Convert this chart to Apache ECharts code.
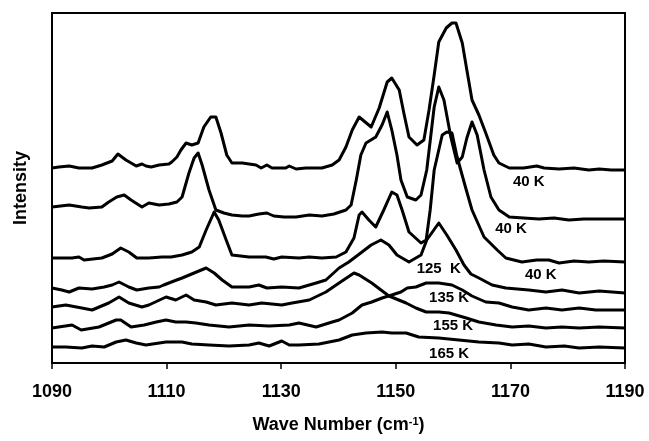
<!DOCTYPE html>
<html>
<head>
<meta charset="utf-8">
<script src="https://cdn.jsdelivr.net/npm/echarts@6/dist/echarts.min.js"></script>
<style>
  html, body { margin: 0; padding: 0; background: #fff; }
  #chart { width: 649px; height: 441px; }
</style>
</head>
<body>
<div id="chart"></div>
<script>
// wave numbers (cm-1) and stacked intensities (arbitrary units)
const wn40a = [1090.0,1091.2,1093.0,1094.7,1097.0,1098.7,1100.5,1101.5,1102.9,1104.7,1105.7,1106.4,1107.3,1108.7,1110.4,1110.9,1111.8,1112.5,1113.4,1114.4,1115.5,1116.5,1117.7,1118.6,1119.5,1120.5,1121.4,1123.2,1124.4,1125.6,1126.5,1127.5,1128.4,1130.8,1131.4,1132.6,1134.3,1137.1,1138.9,1140.1,1141.3,1142.4,1143.6,1145.7,1147.1,1148.5,1149.3,1150.6,1151.4,1152.3,1153.7,1154.9,1155.8,1156.7,1157.5,1158.8,1159.8,1160.5,1161.6,1162.4,1163.3,1164.5,1165.7,1167.1,1168.0,1169.8,1172.3,1174.6,1175.9,1178.5,1181.1,1183.7,1185.5,1187.6,1190.0];
const int40a = [195,196,197,195,195,198,202,209,203,197,199,197,196,198,199,201,206,213,220,218,220,236,246,246,230,208,200,200,199,198,195,198,195,195,197,194,195,195,198,203,216,233,246,236,255,281,285,273,250,226,218,223,253,288,321,335,340,340,320,293,263,248,230,208,200,195,195,197,195,194,195,193,194,193,193];

const wn40b = [1090.0,1093.0,1095.2,1096.5,1098.7,1099.9,1101.3,1102.6,1103.8,1105.7,1106.9,1108.7,1110.4,1111.8,1112.7,1113.9,1114.8,1115.5,1116.2,1117.4,1118.6,1120.0,1121.4,1123.2,1124.4,1126.1,1127.5,1128.7,1130.5,1132.6,1134.9,1137.1,1139.2,1141.3,1142.2,1143.1,1143.9,1144.8,1146.5,1147.6,1148.5,1149.3,1150.2,1150.9,1152.0,1153.5,1154.4,1155.4,1156.7,1157.5,1158.4,1159.6,1160.7,1161.6,1162.4,1163.3,1164.2,1165.4,1166.6,1168.0,1169.8,1172.3,1175.0,1177.6,1180.2,1182.8,1185.5,1190.0];
const int40b = [156,158,156,155,156,161,166,168,163,156,160,158,159,161,166,190,205,210,198,173,153,150,148,147,147,149,150,147,146,146,148,147,149,153,158,183,208,220,226,238,251,233,208,183,166,163,168,193,256,276,263,226,200,206,225,241,228,193,166,153,146,145,144,145,143,144,144,144];

const wn40c = [1090.0,1093.5,1094.7,1095.6,1098.7,1100.5,1102.0,1103.4,1104.8,1106.9,1109.2,1110.8,1112.7,1114.4,1115.7,1116.9,1118.3,1119.1,1120.4,1121.4,1124.4,1127.3,1128.7,1130.1,1133.1,1134.9,1137.1,1139.6,1141.3,1142.7,1143.6,1144.1,1145.3,1146.5,1147.9,1149.3,1150.2,1151.1,1152.3,1154.4,1155.3,1156.0,1156.7,1158.1,1158.9,1159.8,1160.7,1162.3,1163.3,1165.4,1167.7,1169.2,1172.0,1174.6,1176.7,1178.5,1181.1,1183.7,1186.3,1190.0];
const int40c = [105,105,106,103,105,109,115,111,105,105,106,106,108,111,116,133,151,143,123,108,106,106,104,106,105,106,105,106,111,125,148,151,143,136,153,171,168,153,131,120,123,153,193,228,231,230,206,173,153,126,113,105,101,103,103,100,102,101,102,101];

const wn125 = [1090.0,1091.7,1093.0,1094.7,1097.0,1099.1,1100.5,1101.7,1103.4,1104.8,1106.9,1108.7,1109.5,1111.3,1112.7,1114.8,1116.9,1118.3,1119.7,1121.4,1124.4,1126.1,1127.5,1130.1,1133.1,1136.1,1137.8,1140.1,1141.8,1144.1,1145.7,1147.4,1148.8,1150.2,1152.3,1154.4,1155.4,1157.5,1158.9,1160.5,1161.9,1163.1,1164.5,1166.8,1169.2,1173.2,1176.2,1179.0,1182.0,1185.5,1190.0];
const int125 = [75,73,71,75,74,76,78,81,76,73,75,76,78,82,85,90,95,90,83,76,76,78,75,76,75,80,83,95,101,111,118,123,118,108,101,108,123,140,128,113,98,89,85,78,75,73,71,73,70,72,70];

const wnMid = [1090.0,1092.4,1095.2,1097.0,1099.9,1101.7,1103.4,1105.7,1106.9,1109.9,1111.6,1113.4,1114.8,1116.9,1118.6,1121.4,1124.4,1126.6,1130.1,1131.9,1134.9,1137.8,1140.1,1142.7,1143.6,1145.8,1148.8,1151.8,1153.5,1155.3,1157.5,1159.3,1162.3,1164.5,1167.5,1170.3,1173.2,1176.2,1179.0,1182.0,1185.5,1190.0];
const intMid = [56,58,55,53,60,66,60,56,58,66,63,68,63,61,58,60,58,60,58,60,63,71,80,90,88,80,67,60,55,51,51,50,45,41,38,36,37,35,36,35,36,35];

const wnLow = [1090.0,1093.5,1095.1,1098.2,1101.2,1102.0,1103.8,1106.1,1108.2,1109.9,1111.6,1113.4,1115.1,1117.4,1120.9,1124.4,1127.9,1131.4,1133.1,1136.1,1138.9,1140.1,1142.4,1144.1,1145.8,1147.6,1149.3,1150.9,1152.0,1153.5,1155.3,1157.5,1159.8,1161.6,1163.3,1165.7,1168.0,1170.3,1173.2,1176.2,1179.0,1182.0,1184.9,1190.0];
const intLow = [35,38,33,36,43,43,36,38,41,43,41,41,40,38,36,38,37,38,40,36,41,43,50,58,61,65,68,71,75,76,80,80,78,73,67,61,60,56,53,55,53,55,53,53];

const wn165 = [1090.0,1092.4,1095.2,1097.0,1099.1,1101.2,1102.9,1104.7,1106.4,1109.9,1112.7,1114.4,1117.4,1120.9,1124.4,1126.1,1127.9,1130.1,1131.4,1133.1,1136.6,1140.1,1142.4,1144.8,1147.6,1149.3,1151.8,1154.0,1157.5,1161.0,1164.5,1168.0,1170.3,1173.2,1176.2,1179.4,1182.0,1185.5,1190.0];
const int165 = [16,16,15,17,16,21,23,20,18,21,21,19,18,17,18,20,17,22,18,18,19,23,28,30,31,30,30,26,25,23,21,20,18,19,16,17,15,16,15];

// curve labels (text, wave number, intensity)
const labelText = ["40 K", "40 K", "40 K", "125  K", "135 K", "155 K", "165 K"];
const labelWn = [1173.2, 1170.1, 1175.3, 1157.5, 1159.3, 1160.0, 1159.3];
const labelInt = [181, 134, 88, 94, 65, 37, 9];

const xTicks = [1090, 1110, 1130, 1150, 1170, 1190];

const FONT = "Liberation Sans, Arial, sans-serif";
const pairs = (xs, ys) => xs.map((x, i) => [x, ys[i]]);

const curves = [
    { name: "40 K a", data: pairs(wn40a, int40a) },
    { name: "40 K b", data: pairs(wn40b, int40b) },
    { name: "40 K c", data: pairs(wn40c, int40c) },
    { name: "125 K", data: pairs(wn125, int125) },
    { name: "mid", data: pairs(wnMid, intMid) },
    { name: "low", data: pairs(wnLow, intLow) },
    { name: "165 K", data: pairs(wn165, int165) },
];

const chart = echarts.init(document.getElementById("chart"), null, { renderer: "canvas" });
chart.setOption({
    animation: false,
    backgroundColor: "#fff",
    grid: {
        left: 52, right: 24, top: 13, bottom: 78,
        show: true, borderColor: "#000", borderWidth: 2,
    },
    xAxis: {
        type: "value",
        min: xTicks[0],
        max: xTicks[xTicks.length - 1],
        interval: 20,
        name: "{a|Wave Number (cm}{s|-1}{a|)}",
        nameLocation: "middle",
        nameGap: 53,
        nameTextStyle: {
            rich: {
                a: { fontFamily: FONT, fontWeight: "bold", fontSize: 18, color: "#000" },
                s: { fontFamily: FONT, fontWeight: "bold", fontSize: 11, color: "#000", verticalAlign: "top", padding: [0, 0, 8, 0] },
            },
        },
        axisLine: { lineStyle: { color: "#000", width: 2 } },
        axisTick: { show: true, inside: false, length: 6, lineStyle: { color: "#000", width: 1.5 } },
        axisLabel: {
            margin: 20,
            formatter: v => String(v),
            fontFamily: FONT, fontWeight: "bold", fontSize: 18, color: "#000",
        },
        splitLine: { show: false },
    },
    yAxis: {
        type: "value",
        min: 0,
        max: 350,
        name: "Intensity",
        nameLocation: "middle",
        nameGap: 22,
        nameRotate: 90,
        nameTextStyle: { fontFamily: FONT, fontWeight: "bold", fontSize: 18, color: "#000" },
        axisLine: { show: false },
        axisTick: { show: false },
        axisLabel: { show: false },
        splitLine: { show: false },
    },
    series: curves.map(c => ({
        name: c.name,
        type: "line",
        data: c.data,
        symbol: "none",
        smooth: false,
        lineStyle: { color: "#000", width: 3, join: "round" },
        z: 2,
    })).concat([{
        type: "scatter",
        symbolSize: 0,
        itemStyle: { color: "#000", opacity: 1 },
        silent: true,
        data: labelText.map((t, i) => ({ name: t, value: [labelWn[i], labelInt[i]] })),
        label: {
            show: true,
            position: "inside",
            formatter: "{b}",
            fontFamily: FONT,
            fontWeight: "bold",
            fontSize: 15,
            color: "#000",
            opacity: 1,
            textBorderWidth: 0,
        },
        z: 5,
    }]),
});
</script>
</body>
</html>
